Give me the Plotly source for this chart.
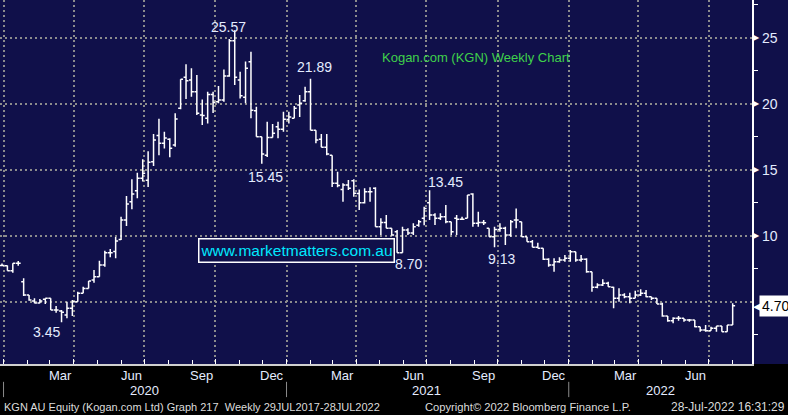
import plotly.graph_objects as go
import pandas as pd

# weekly bars, KGN AU
weeks = pd.date_range("2019-12-30", periods=136, freq="7D")

opens = [7.75, 7.73, 7.35, 7.91, 6.52, 5.50, 5.05, 4.90, 5.18, 5.26,
         4.37, 4.30, 4.00, 4.50, 5.00, 5.64, 6.00, 6.64, 6.90, 7.78,
         8.70, 8.80, 9.72, 11.20, 12.58, 13.40, 14.35, 14.20, 15.60, 17.60,
         17.00, 17.30, 16.87, 19.65, 22.00, 21.80, 20.90, 19.14, 18.90, 20.70,
         20.15, 20.28, 22.10, 24.77, 21.80, 20.50, 23.18, 19.47, 17.50, 16.10,
         17.45, 18.26, 18.06, 18.80, 18.90, 19.90, 20.23, 20.90, 18.00, 17.30,
         16.70, 16.10, 13.97, 13.50, 13.84, 14.17, 13.20, 12.50, 13.33, 13.59,
         10.68, 11.00, 10.56, 10.30, 8.70, 10.43, 10.20, 10.80, 11.32, 12.50,
         11.57, 11.32, 11.44, 11.06, 11.32, 11.24, 11.32, 13.16, 10.94, 11.00,
         10.56, 9.92, 10.48, 10.56, 10.05, 11.19, 11.06, 9.92, 9.55, 9.12,
         9.05, 8.21, 7.78, 8.03, 8.16, 8.29, 8.79, 8.16, 8.21, 7.27,
         6.09, 6.27, 6.39, 6.09, 5.26, 5.51, 5.38, 5.26, 5.51, 5.64,
         5.38, 5.26, 4.83, 3.92, 3.56, 3.74, 3.74, 3.61, 3.61, 3.11,
         2.86, 2.80, 2.98, 3.16, 2.73, 3.23]
highs = [7.90, 7.75, 7.91, 8.08, 6.77, 5.50, 5.26, 5.20, 5.26, 5.26,
         4.67, 4.37, 5.00, 5.13, 5.76, 6.14, 6.57, 7.40, 8.10, 8.86,
         9.00, 9.90, 11.44, 13.00, 14.27, 14.77, 15.79, 16.40, 17.70, 18.86,
         17.88, 17.38, 19.27, 21.85, 23.00, 22.68, 22.17, 20.33, 20.90, 20.90,
         21.35, 22.60, 24.90, 25.57, 22.42, 23.20, 23.94, 19.77, 17.50, 18.64,
         18.46, 18.64, 19.39, 19.39, 19.83, 20.66, 21.29, 21.89, 18.00, 17.70,
         17.70, 16.10, 14.85, 13.97, 14.22, 14.27, 13.50, 13.59, 13.67, 13.67,
         11.32, 11.57, 10.56, 10.43, 10.68, 10.56, 10.94, 11.19, 12.20, 13.45,
         11.70, 11.70, 12.33, 11.06, 11.57, 11.44, 13.08, 13.21, 11.82, 11.19,
         10.56, 10.68, 10.94, 10.68, 11.19, 12.07, 11.06, 9.92, 9.67, 9.47,
         9.05, 8.29, 8.29, 8.36, 8.54, 8.92, 8.79, 8.54, 8.29, 7.27,
         6.39, 6.70, 6.52, 6.14, 6.02, 5.64, 5.68, 5.83, 5.94, 5.89,
         5.38, 5.26, 4.92, 3.92, 3.82, 3.92, 3.74, 3.69, 3.61, 3.11,
         3.23, 3.11, 3.16, 3.16, 3.23, 4.88]
lows = [7.70, 7.35, 7.20, 7.73, 5.43, 5.08, 4.88, 4.88, 4.83, 4.37,
        4.17, 3.45, 3.74, 3.92, 5.00, 5.64, 6.00, 6.44, 6.90, 7.65,
        8.36, 8.29, 9.67, 10.73, 12.00, 12.83, 14.10, 13.70, 15.28, 16.10,
        16.60, 15.94, 16.74, 19.58, 20.35, 20.53, 19.14, 18.39, 18.50, 19.30,
        20.03, 20.15, 22.05, 21.42, 20.40, 20.03, 18.90, 17.50, 15.45, 15.96,
        17.45, 17.38, 17.88, 18.50, 18.90, 19.00, 20.15, 18.00, 17.00, 16.70,
        16.10, 13.70, 13.67, 12.58, 13.46, 12.95, 11.95, 12.45, 12.58, 10.68,
        10.05, 10.56, 10.00, 8.70, 8.70, 10.05, 10.05, 10.68, 10.80, 11.20,
        10.81, 11.19, 10.94, 10.05, 10.05, 11.19, 11.32, 10.68, 10.68, 10.81,
        9.92, 9.13, 10.30, 9.30, 9.92, 10.56, 9.92, 9.55, 9.12, 9.05,
        8.16, 7.65, 7.27, 7.95, 8.03, 8.03, 8.03, 8.03, 7.20, 5.76,
        6.02, 6.19, 6.14, 4.50, 5.00, 5.26, 4.88, 5.26, 5.43, 5.33,
        5.13, 4.83, 3.86, 3.48, 3.36, 3.56, 3.48, 3.48, 3.06, 2.73,
        2.73, 2.80, 2.73, 2.73, 2.73, 3.23]
closes = [7.75, 7.35, 7.91, 7.91, 5.50, 5.13, 4.90, 5.05, 5.26, 4.37,
          4.37, 4.20, 4.50, 5.00, 5.64, 6.00, 6.57, 6.90, 7.78, 8.70,
          8.70, 9.60, 11.20, 12.40, 13.16, 14.35, 14.73, 15.56, 17.25, 17.00,
          17.40, 16.62, 18.84, 21.85, 21.74, 20.90, 19.27, 19.10, 20.70, 20.10,
          20.28, 22.10, 24.77, 22.00, 20.60, 22.68, 19.50, 17.50, 16.19, 17.45,
          17.76, 18.06, 18.82, 19.00, 19.65, 20.03, 20.90, 18.00, 17.25, 16.70,
          16.19, 13.97, 13.80, 13.84, 13.60, 13.21, 12.50, 13.33, 13.33, 10.68,
          11.00, 10.56, 10.05, 8.70, 10.43, 10.20, 10.68, 11.06, 12.07, 11.57,
          11.32, 11.44, 11.06, 10.30, 11.24, 11.24, 13.08, 10.94, 11.00, 10.98,
          9.92, 10.48, 10.56, 10.05, 11.06, 11.19, 9.92, 9.55, 9.12, 9.05,
          8.21, 7.78, 8.03, 8.16, 8.29, 8.79, 8.16, 8.21, 7.27, 6.09,
          6.27, 6.39, 6.14, 5.26, 5.51, 5.38, 5.26, 5.51, 5.64, 5.38,
          5.26, 4.83, 3.92, 3.56, 3.74, 3.74, 3.61, 3.61, 3.11, 2.86,
          2.80, 2.98, 3.16, 2.73, 3.23, 4.70]

quarter_starts = ["2020-01-01", "2020-04-01", "2020-07-01", "2020-10-01",
                  "2021-01-01", "2021-04-01", "2021-07-01", "2021-10-01",
                  "2022-01-01", "2022-04-01", "2022-07-01"]
month_labels = ["Mar", "Jun", "Sep", "Dec", "Mar", "Jun", "Sep", "Dec", "Mar", "Jun"]
month_dates = ["2020-03-15", "2020-06-14", "2020-09-13", "2020-12-13",
               "2021-03-15", "2021-06-14", "2021-09-13", "2021-12-13",
               "2022-03-15", "2022-06-14"]
year_labels = ["2020", "2021", "2022"]
year_dates = ["2020-07-01", "2021-07-01", "2022-04-30"]
year_breaks = ["2020-01-01", "2021-01-01", "2022-01-01"]
axis_labels = [10, 15, 20, 25]
last_price = 4.70

# (text, bar index, y of label centre, x shift)
price_labels = [("25.57", 43, 25.81, -6), ("21.89", 57, 22.80, 4),
                ("15.45", 48, 14.47, 4), ("13.45", 79, 14.05, 16),
                ("8.70", 73, 7.86, 11), ("9.13", 91, 8.23, 7),
                ("3.45", 11, 2.70, -15)]

NAVY = "#10104a"
GRID = "#8c8c8c"
TXT = "#e4ecff"
FONT = "Liberation Sans"

fig = go.Figure(go.Ohlc(
    x=weeks, open=opens, high=highs, low=lows, close=closes,
    increasing_line_color="white", decreasing_line_color="white",
    line_width=1.5, tickwidth=0.45, hoverinfo="skip"
))

ann = []
for txt, k, yv, dx in price_labels:
    ann.append(dict(x=weeks[k], y=yv, xref="x", yref="y", text=txt, showarrow=False,
                    xshift=dx, yanchor="middle", font=dict(size=14, color=TXT)))
for lab, d in zip(month_labels, month_dates):
    ann.append(dict(x=d, y=-0.031, xref="x", yref="paper", text=lab, showarrow=False,
                    yanchor="middle", font=dict(size=13, color=TXT)))
for lab, d in zip(year_labels, year_dates):
    ann.append(dict(x=d, y=-0.074, xref="x", yref="paper", text=lab, showarrow=False,
                    yanchor="middle", font=dict(size=13, color=TXT)))
for v in axis_labels:
    ann.append(dict(x=1, y=v, xref="paper", yref="y", text="▶", showarrow=False,
                    xanchor="left", yanchor="middle", xshift=-1,
                    font=dict(size=8, color="white")))
    ann.append(dict(x=1, y=v, xref="paper", yref="y", text=str(v), showarrow=False,
                    xanchor="left", yanchor="middle", xshift=8,
                    font=dict(size=14, color=TXT)))
ann.append(dict(x=1, y=last_price, xref="paper", yref="y", text="◀", showarrow=False,
                xanchor="left", yanchor="middle", xshift=-1, font=dict(size=11, color="white")))
ann.append(dict(x=1, y=last_price, xref="paper", yref="y", text=f"{last_price:.2f}",
                showarrow=False, xanchor="left", yanchor="middle", xshift=7, bgcolor="white",
                borderpad=2, font=dict(size=14, color="black")))
ann.append(dict(x=380 / 752, y=1 - 58 / 364, xref="paper", yref="paper",
                text="Kogan.com (KGN) Weekly Chart", showarrow=False,
                xanchor="left", yanchor="middle",
                font=dict(size=13, color="#3fd04a")))
ann.append(dict(x=296 / 752, y=1 - 250.5 / 364, xref="paper", yref="paper",
                text="www.marketmatters.com.au", showarrow=False, width=192, height=20,
                xanchor="center", yanchor="middle",
                bgcolor=NAVY, bordercolor="white", borderwidth=1.5, borderpad=1,
                font=dict(size=15.5, color="#00e8ff")))
ann.append(dict(x=2 / 752, y=-0.118, xref="paper", yref="paper",
                xanchor="left", yanchor="middle",
                text="KGN AU Equity (Kogan.com Ltd) Graph 217  Weekly 29JUL2017-28JUL2022",
                showarrow=False, font=dict(size=11, color="#dcdcdc")))
ann.append(dict(x=423 / 752, y=-0.118, xref="paper", yref="paper",
                xanchor="left", yanchor="middle",
                text="Copyright© 2022 Bloomberg Finance L.P.",
                showarrow=False, font=dict(size=11.2, color="#dcdcdc")))
ann.append(dict(x=787 / 752, y=-0.118, xref="paper", yref="paper",
                xanchor="right", yanchor="middle",
                text="28-Jul-2022 16:31:29",
                showarrow=False, font=dict(size=12, color="#dcdcdc")))

shapes = [dict(type="rect", xref="paper", yref="paper", x0=1, x1=1.06, y0=0, y1=1,
               fillcolor=NAVY, line_width=0, layer="below")]
for d in year_breaks:
    shapes.append(dict(type="line", xref="x", yref="paper", x0=d, x1=d, y0=-0.049, y1=-0.091,
                       line=dict(color="#8c8c8c", width=1)))

fig.update_layout(
    width=788, height=415,
    margin=dict(l=0, r=36, t=0, b=51),
    paper_bgcolor="black", plot_bgcolor=NAVY,
    font=dict(family=FONT, color=TXT),
    showlegend=False,
    annotations=ann, shapes=shapes,
    xaxis=dict(
        range=["2019-12-27 10:00", "2022-08-26"],
        rangeslider_visible=False,
        tickvals=quarter_starts, showticklabels=False,
        ticks="inside", ticklen=5, tickcolor="white",
        showgrid=True, gridcolor=GRID, gridwidth=2, griddash="2px,3px",
        minor=dict(dtick="M1", tick0="2020-01-01", ticks="inside", ticklen=4,
                   tickcolor="white", showgrid=False),
        showline=True, linecolor="#d0d0d0", linewidth=1.5, zeroline=False,
    ),
    yaxis=dict(
        range=[0.28, 27.86], side="right",
        tickvals=[5, 10, 15, 20, 25], showticklabels=False, ticks="",
        showgrid=True, gridcolor=GRID, gridwidth=2, griddash="2px,3px",
        minor=dict(tickvals=[2.5, 7.5, 12.5, 17.5, 22.5, 27.5], ticks="outside",
                   ticklen=4, tickcolor="white", showgrid=False),
        showline=True, linecolor="white", linewidth=1.5, zeroline=False,
    ),
)

# page body has a default 8px margin; drop it so the figure sits at the corner
fig.write_html("out.html", config={"displayModeBar": False},
               post_script="document.body.style.margin='0px';")
